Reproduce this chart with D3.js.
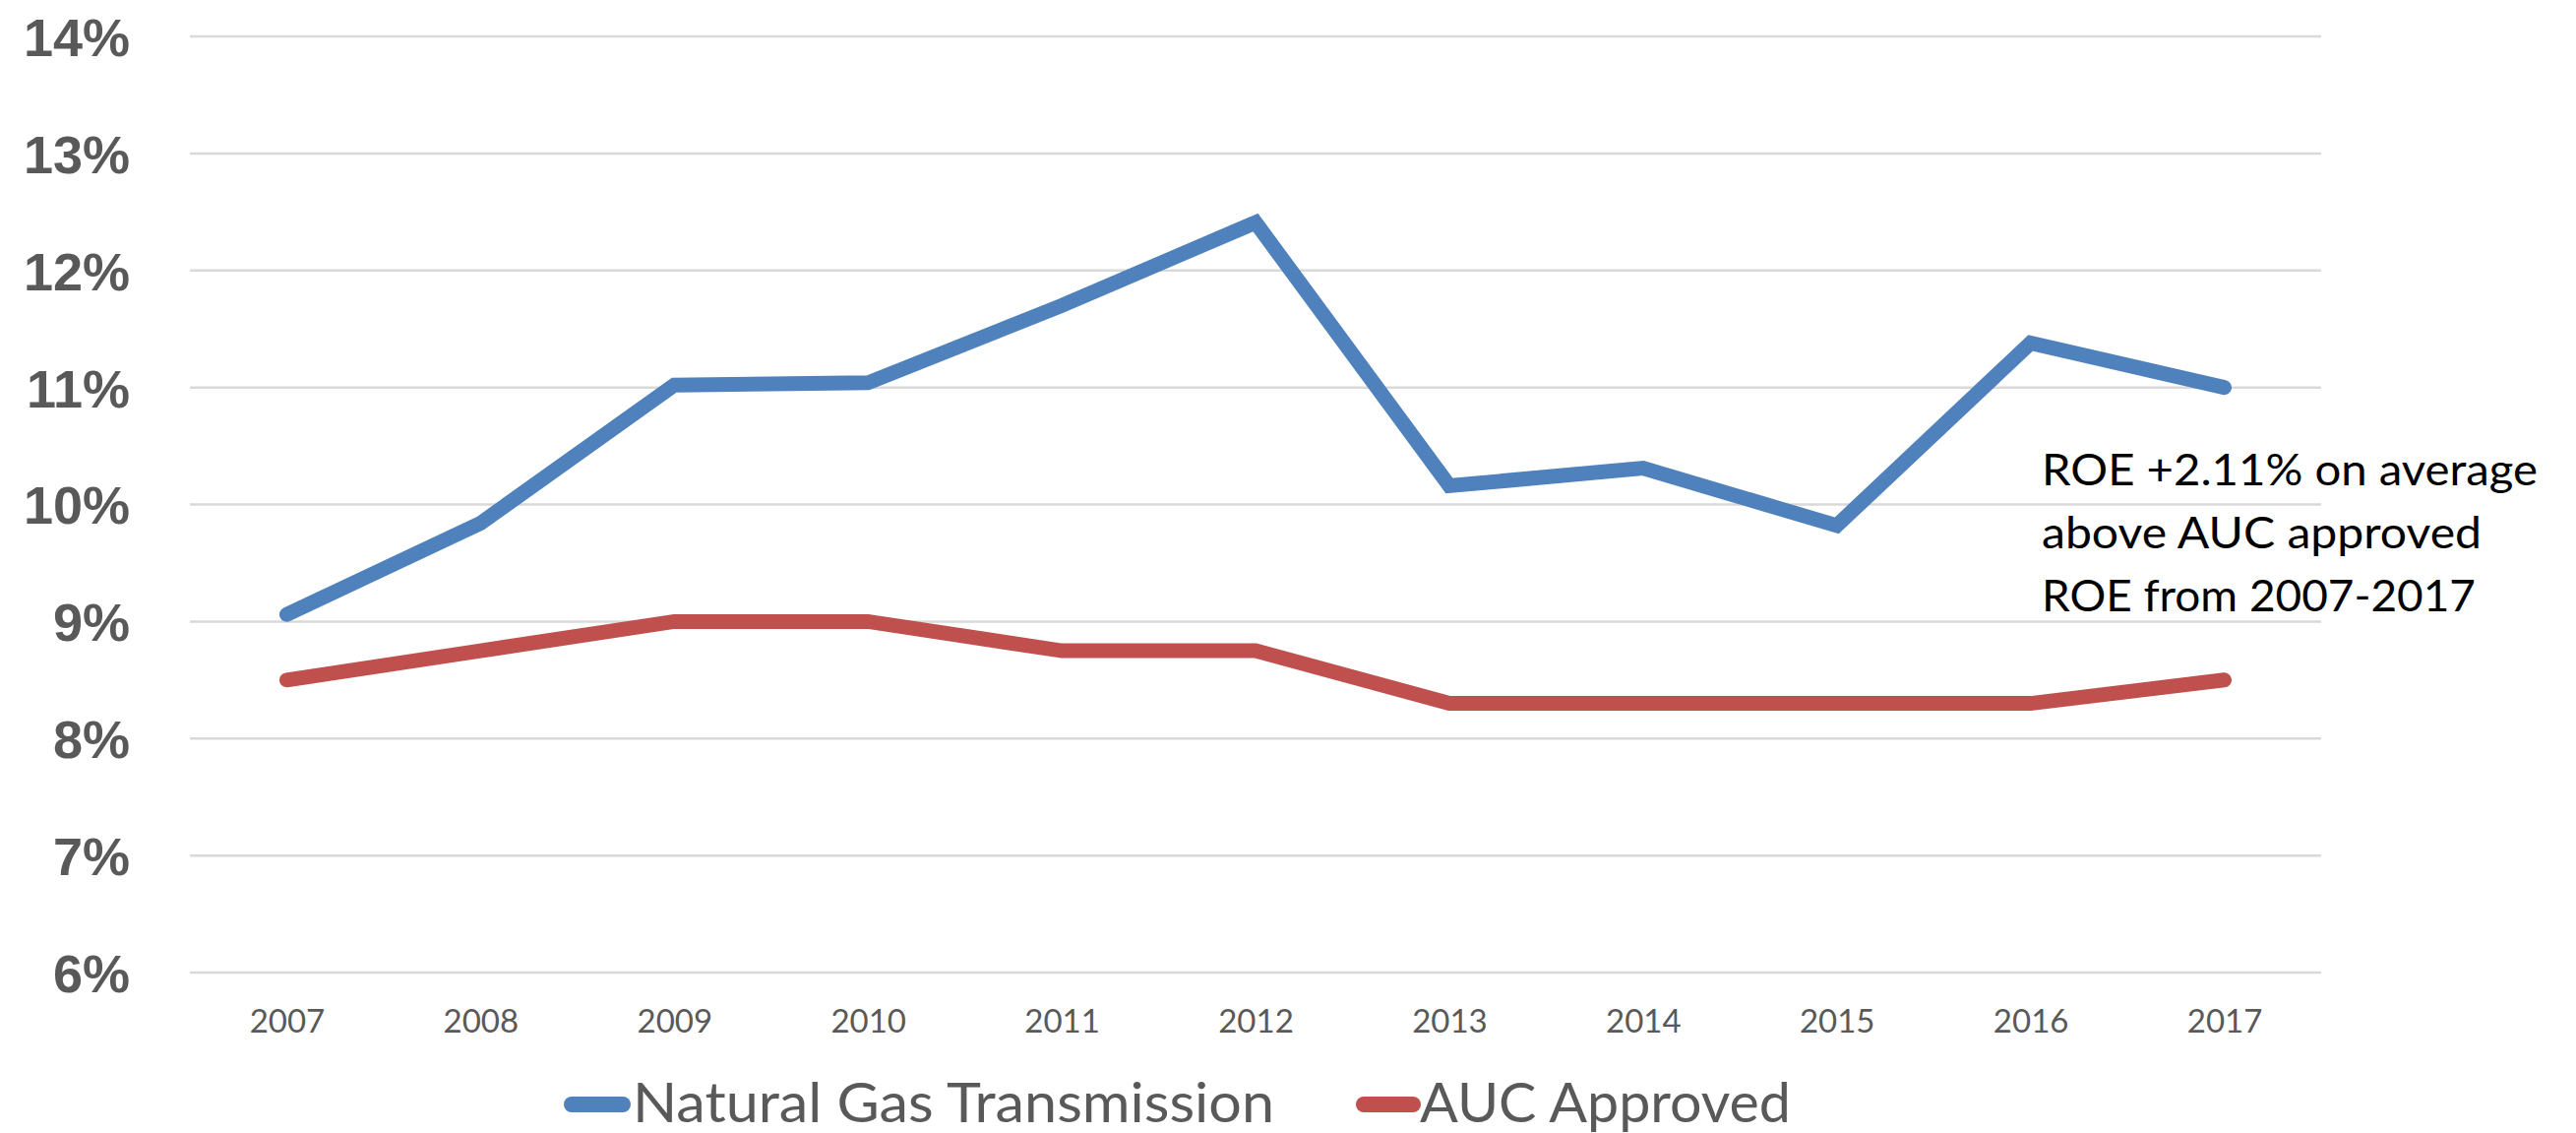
<!DOCTYPE html>
<html>
<head>
<meta charset="utf-8">
<script src="https://cdn.jsdelivr.net/npm/d3@7"></script>
<style>
  html, body { margin: 0; padding: 0; background: #ffffff; }
  svg { display: block; }
</style>
</head>
<body>
<div id="chart"></div>
<script>
// values (percent)
var years = ["2007","2008","2009","2010","2011","2012","2013","2014","2015","2016","2017"];
var gasTransmission = [9.06, 9.84, 11.02, 11.04, 11.70, 12.41, 10.16, 10.31, 9.82, 11.38, 11.00];
var aucApproved = [8.50, 8.75, 9.00, 9.00, 8.75, 8.75, 8.30, 8.30, 8.30, 8.30, 8.50];
var yTicks = [6, 7, 8, 9, 10, 11, 12, 13, 14];
var seriesNames = ["Natural Gas Transmission", "AUC Approved"];
var seriesColors = ["#4F81BD", "#C0504D"];
var noteLines = ["ROE +2.11% on average", "above AUC approved", "ROE from 2007-2017"];

var width = 2618, height = 1151;
var plot = {left: 193, right: 2359, top: 37, bottom: 988};

var svg = d3.select("#chart").append("svg")
    .attr("width", width)
    .attr("height", height);

var x = d3.scalePoint()
    .domain(years)
    .range([plot.left, plot.right])
    .padding(0.5);

var y = d3.scaleLinear()
    .domain([6, 14])
    .range([plot.bottom, plot.top]);

// gridlines
svg.append("g")
    .selectAll("line")
    .data(yTicks)
    .enter()
    .append("line")
    .attr("x1", plot.left)
    .attr("x2", plot.right)
    .attr("y1", function(d){ return y(d); })
    .attr("y2", function(d){ return y(d); })
    .style("stroke", "#D9D9D9")
    .style("stroke-width", 2.5);

// y axis, no domain line, no ticks
var yAxis = d3.axisLeft(y)
    .tickValues(yTicks)
    .tickSize(0)
    .tickPadding(0)
    .tickFormat(function(d){ return d + "%"; });

var yg = svg.append("g")
    .attr("transform", "translate(132,0)")
    .call(yAxis);
yg.select(".domain").remove();
yg.selectAll("text")
    .attr("x", 0)
    .attr("dy", "0.36em")
    .style("font-family", "'Liberation Sans', Arial, sans-serif")
    .style("font-weight", "bold")
    .style("font-size", "54px")
    .style("fill", "#595959");

// x axis
var xAxis = d3.axisBottom(x)
    .tickSize(0)
    .tickPadding(0);

var xg = svg.append("g")
    .attr("transform", "translate(0," + plot.bottom + ")")
    .call(xAxis);
xg.select(".domain").remove();
xg.selectAll("text")
    .attr("y", 61)
    .attr("dy", 0)
    .style("font-family", "Lato, 'Open Sans', sans-serif")
    .style("font-size", "33px")
    .style("fill", "#595959");

// lines
var line = d3.line()
    .x(function(d, i){ return x(years[i]); })
    .y(function(d){ return y(d); });

var allSeries = [gasTransmission, aucApproved];

svg.append("g")
    .selectAll("path")
    .data(allSeries)
    .enter()
    .append("path")
    .attr("d", function(d){ return line(d); })
    .style("fill", "none")
    .style("stroke", function(d, i){ return seriesColors[i]; })
    .style("stroke-width", 15)
    .style("stroke-linecap", "round")
    .style("stroke-linejoin", "miter");

// annotation
var noteWidths = [504, 447, 441];
svg.append("g")
    .selectAll("text")
    .data(noteLines)
    .enter()
    .append("text")
    .attr("x", 2075)
    .attr("y", function(d, i){ return 493 + i * 64; })
    .attr("textLength", function(d, i){ return noteWidths[i]; })
    .attr("lengthAdjust", "spacingAndGlyphs")
    .style("font-family", "Lato, 'Open Sans', sans-serif")
    .style("font-size", "45px")
    .style("fill", "#000000")
    .text(function(d){ return d; });

// legend
var legendItems = [
    {swatch: [581, 633], textX: 643, textW: 652},
    {swatch: [1386, 1436], textX: 1443, textW: 377}
];

var lg = svg.append("g");
lg.selectAll("line")
    .data(legendItems)
    .enter()
    .append("line")
    .attr("x1", function(d){ return d.swatch[0]; })
    .attr("x2", function(d){ return d.swatch[1]; })
    .attr("y1", 1122)
    .attr("y2", 1122)
    .style("stroke", function(d, i){ return seriesColors[i]; })
    .style("stroke-width", 16)
    .style("stroke-linecap", "round");

lg.selectAll("text")
    .data(legendItems)
    .enter()
    .append("text")
    .attr("x", function(d){ return d.textX; })
    .attr("y", 1140)
    .attr("textLength", function(d){ return d.textW; })
    .attr("lengthAdjust", "spacingAndGlyphs")
    .style("font-family", "Lato, 'Open Sans', sans-serif")
    .style("font-size", "57px")
    .style("fill", "#595959")
    .text(function(d, i){ return seriesNames[i]; });
</script>
</body>
</html>
